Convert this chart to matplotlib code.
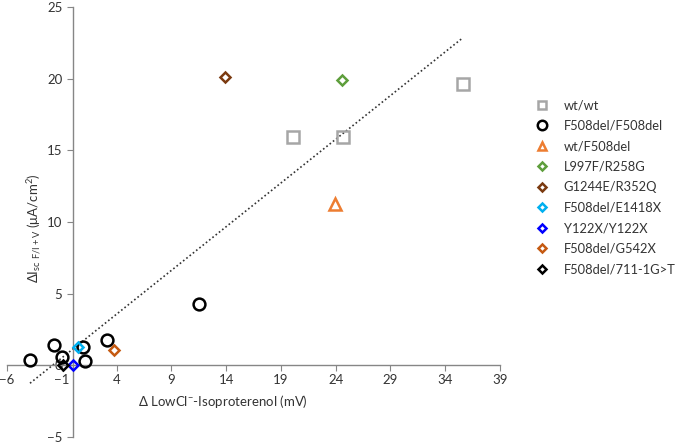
import numpy as np
import matplotlib
matplotlib.use('Agg')
import matplotlib.pyplot as plt

plt.rcParams['font.family'] = ['Lato', 'DejaVu Sans']

# data
wt_x = [20.1, 24.7, 35.6]
wt_y = [15.9, 15.9, 19.65]
hom_x = [-3.9, -1.7, -1.0, 0.95, 1.1, 3.1, 11.5]
hom_y = [0.35, 1.45, 0.6, 1.25, 0.3, 1.75, 4.25]
het_x = [23.9]
het_y = [11.25]
l997_x, l997_y = [24.6], [19.9]
g1244_x, g1244_y = [13.9], [20.1]
e1418_x, e1418_y = [0.5], [1.3]
y122_x, y122_y = [0.0], [0.0]
g542_x, g542_y = [3.8], [1.1]
c711_x, c711_y = [-0.9], [0.0]

trend_slope = 0.61
trend_intercept = 1.13

x_ticks = [-6, -1, 4, 9, 14, 19, 24, 29, 34, 39]
y_ticks = [-5, 0, 5, 10, 15, 20, 25]

fig = plt.figure(figsize=(6.75, 4.46), dpi=100)
ax = fig.add_axes([7 / 675, 9 / 446, 493 / 675, 430 / 446])

series = [
    (wt_x, wt_y, 's', '#A6A6A6', 8, 'wt/wt'),
    (hom_x, hom_y, 'o', 'black', 8.5, 'F508del/F508del'),
    (het_x, het_y, '^', '#ED7D31', 8, 'wt/F508del'),
    (l997_x, l997_y, 'D', '#5E9E3C', 5.5, 'L997F/R258G'),
    (g1244_x, g1244_y, 'D', '#7B3A10', 5.5, 'G1244E/R352Q'),
    (e1418_x, e1418_y, 'D', '#00B0F0', 5.5, 'F508del/E1418X'),
    (y122_x, y122_y, 'D', '#0000FF', 5.5, 'Y122X/Y122X'),
    (g542_x, g542_y, 'D', '#C55A11', 5.5, 'F508del/G542X'),
    (c711_x, c711_y, 'D', 'black', 5.5, 'F508del/711-1G>T'),
]

for xs, ys, m, c, ms, lab in series:
    ax.plot(xs, ys, linestyle='none', marker=m, markersize=ms,
            markerfacecolor='none', markeredgecolor=c, markeredgewidth=1.8,
            label=lab, zorder=3)

all_x = np.concatenate([s[0] for s in series])
tx = np.array([all_x.min(), all_x.max()])
ax.plot(tx, trend_slope * tx + trend_intercept, linestyle=(0, (1, 1.5)),
        color='#333333', linewidth=1.2, zorder=2)

ax.set_xlim(-6, 39)
ax.set_ylim(-5, 25)
ax.set_xticks(x_ticks)
ax.set_yticks(y_ticks)

for s in ['top', 'right']:
    ax.spines[s].set_visible(False)
ax.spines['left'].set_position(('data', 0))
ax.spines['bottom'].set_position(('data', 0))
for s in ['left', 'bottom']:
    ax.spines[s].set_color('#868686')
    ax.spines[s].set_linewidth(1.0)
ax.tick_params(axis='both', direction='out', length=4, color='#868686',
               labelsize=9.5, labelcolor='#333333')
ax.tick_params(axis='x', pad=2)
ax.patch.set_alpha(0)

fig.text(223 / 675, 1 - 402 / 446, r'Δ LowCl$^{\mathregular{-}}$-Isoproterenol (mV)',
         ha='center', va='center', fontsize=9.5, color='#333333')
fig.text(35 / 675, 1 - 228 / 446, r'ΔI$_{\mathregular{sc\ F/I+V}}$ (μA/cm$^{\mathregular{2}}$)',
         ha='center', va='center', rotation=90, fontsize=9.5, color='#333333')

leg = ax.legend(loc='upper left', bbox_to_anchor=(530 / 675, 1 - 94 / 446),
                bbox_transform=fig.transFigure, frameon=False, fontsize=9.3,
                labelspacing=0.66, handletextpad=1.2, handlelength=1.0,
                markerscale=0.8, borderaxespad=0)
for t in leg.get_texts():
    t.set_color('#333333')

fig.savefig('out.png', dpi=100)
